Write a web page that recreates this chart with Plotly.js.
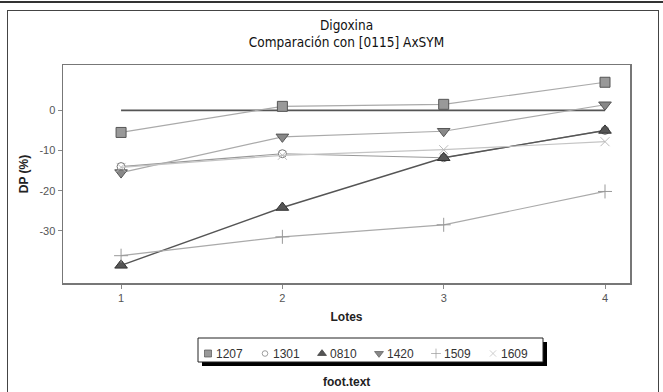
<!DOCTYPE html>
<html>
<head>
<meta charset="utf-8">
<script src="https://cdn.plot.ly/plotly-3.0.1.min.js"></script>
<style>
html,body{margin:0;padding:0;background:#fff;}
#wrap{position:relative;width:663px;height:392px;overflow:hidden;}
#chart{position:absolute;left:0;top:0;width:663px;height:392px;}
#topline{position:absolute;left:0;top:1px;width:663px;height:2px;background:#333;}
#frame{position:absolute;left:7px;top:10px;width:650px;height:390px;border:1.5px solid #444;pointer-events:none;}
#chart .legend .scrollbox{clip-path:none !important;}
#chart .legend .legendpoints{transform:translateX(18px) scale(0.7);transform-origin:0 0;}
</style>
</head>
<body>
<div id="wrap">
<div id="chart"></div>
<div id="topline"></div>
<div id="frame"></div>
</div>
<script>
// Data
var lotes = [1, 2, 3, 4];
var refLine = [0, 0, 0, 0];
var s1207 = [-5.5, 1.0, 1.5, 7.0];
var s1301 = [-14.0, -10.8, -11.8, -5.0];
var s0810 = [-38.6, -24.2, -11.8, -5.0];
var s1420 = [-15.5, -6.6, -5.2, 1.4];
var s1509 = [-36.2, -31.5, -28.5, -20.2];
var s1609 = [-14.2, -11.2, -9.8, -7.8];
var seriesNames = ["1207", "1301", "0810", "1420", "1509", "1609"];
var yTicks = [0, -10, -20, -30];

var FONT = "DejaVu Sans Condensed, Liberation Sans Narrow, Liberation Sans, Arial, sans-serif";
var SANS = "Liberation Sans, Arial, sans-serif";

var series = [
  {name: seriesNames[0], y: s1207, line: {color: "#aaa", width: 1.2},
   marker: {symbol: "square", size: 10, color: "#999", line: {color: "#555", width: 1}}},
  {name: seriesNames[1], y: s1301, line: {color: "#999", width: 1.2},
   marker: {symbol: "circle", size: 8, color: "#fff", line: {color: "#777", width: 1}}},
  {name: seriesNames[2], y: s0810, line: {color: "#555", width: 1.4},
   marker: {symbol: "triangle-up", size: 11, color: "#555", line: {color: "#333", width: 1}}},
  {name: seriesNames[3], y: s1420, line: {color: "#aaa", width: 1.2},
   marker: {symbol: "triangle-down", size: 11, color: "#888", line: {color: "#555", width: 1}}},
  {name: seriesNames[4], y: s1509, line: {color: "#aaa", width: 1.2},
   marker: {symbol: "cross-thin", size: 10, color: "#999", line: {color: "#999", width: 1}}},
  {name: seriesNames[5], y: s1609, line: {color: "#c4c4c4", width: 1.2},
   marker: {symbol: "x-thin", size: 9, color: "#bbb", line: {color: "#bbb", width: 1}}}
];

var traces = [
  {x: lotes, y: refLine, mode: "lines", line: {color: "#555", width: 1.6}, showlegend: false, hoverinfo: "skip"}
];
series.forEach(function (s) {
  traces.push({x: lotes, y: s.y, mode: "lines", line: s.line, legendgroup: s.name,
               showlegend: false, hoverinfo: "skip"});
  traces.push({x: lotes, y: s.y, name: s.name, mode: "markers", marker: s.marker,
               legendgroup: s.name});
});

var plotL = 63, plotT = 65, plotW = 567, plotH = 218;
function px2x(p) { return (p - plotL) / plotW; }
function py2y(p) { return (plotT + plotH - p) / plotH; }

var layout = {
  width: 663, height: 392,
  margin: {l: 63, r: 33, t: 65, b: 109},
  paper_bgcolor: "#fff", plot_bgcolor: "#fff",
  font: {family: SANS, size: 11, color: "#555"},
  title: {text: "Digoxina<br>Comparación con [0115] AxSYM", x: 0.5, xref: "paper",
          y: 1 - 29.5/392, yref: "container", yanchor: "middle",
          font: {family: FONT, size: 13.5, color: "#111"}},
  xaxis: {range: [0.64, 4.155], tickvals: lotes, ticktext: lotes.map(String),
          ticks: "outside", ticklen: 4, tickcolor: "#888", showgrid: false, zeroline: false,
          showline: true, linecolor: "#777", linewidth: 1.5, mirror: true,
          tickfont: {family: SANS, size: 11, color: "#555"},
          title: {text: "<b>Lotes</b>", font: {family: SANS, size: 12, color: "#222"}, standoff: 10}},
  yaxis: {range: [-43, 11.3], tickvals: yTicks, ticktext: yTicks.map(String),
          ticks: "outside", ticklen: 4, tickcolor: "#888", showgrid: false, zeroline: false,
          showline: true, linecolor: "#777", linewidth: 1.5, mirror: true,
          tickfont: {family: SANS, size: 11, color: "#555"},
          title: {text: "<b>DP (%)</b>", font: {family: SANS, size: 12, color: "#222"}, standoff: 8}},
  legend: {orientation: "h", x: px2x(176), xanchor: "left", y: py2y(339), yanchor: "top",
           bgcolor: "rgba(0,0,0,0)", borderwidth: 0, entrywidth: 12,
           font: {family: SANS, size: 12, color: "#333"}, itemwidth: 30, tracegroupgap: 0},
  shapes: [
    {type: "rect", xref: "paper", yref: "paper", layer: "below",
     x0: px2x(202), x1: px2x(547), y0: py2y(342), y1: py2y(366),
     fillcolor: "#000", line: {width: 0}},
    {type: "rect", xref: "paper", yref: "paper", layer: "below",
     x0: px2x(198), x1: px2x(543), y0: py2y(338), y1: py2y(362),
     fillcolor: "#fff", line: {color: "#222", width: 1}}
  ],
  annotations: [{text: "<b>foot.text</b>", xref: "paper", yref: "paper", x: 0.5, y: py2y(382),
                 yanchor: "middle", showarrow: false, font: {family: SANS, size: 12, color: "#222"}}],
  showlegend: true
};

Plotly.newPlot("chart", traces, layout, {displayModeBar: false, staticPlot: true});
</script>
</body>
</html>
